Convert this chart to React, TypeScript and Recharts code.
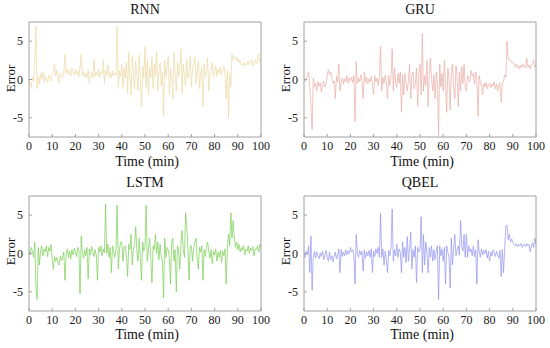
import React from "react";
import { LineChart, Line, XAxis, YAxis } from "recharts";

// Time axis: samples every 0.5 min from 0 to 100
const TIME: number[] = Array.from({ length: 201 }, (_, i) => i * 0.5);
const X_TICKS = [0, 10, 20, 30, 40, 50, 60, 70, 80, 90, 100];
const Y_TICKS = [-5, 0, 5];
const TITLES = ["RNN", "GRU", "LSTM", "QBEL"];

const RNN = [
  0.2, -0.5, -1.0, 0.3, -0.2, 2.5, 7.0, -1.2, 0.4, -0.6, 0.8, 0.1, 1.0, -0.3, 0.5, 0.2, -0.4, 0.6, 0.3, -0.2,
  0.6, 0.9, 2.0, 0.5, 1.2, 0.3, -0.5, 0.8, 0.4, 0.2, 1.0, 3.3, 0.7, 1.4, 0.8, 1.2, 0.5, 1.5, 1.0, 0.6,
  1.3, 0.7, 1.1, 0.4, 1.6, 3.3, 0.5, 1.0, 0.3, 0.8, 0.2, 1.2, -0.5, 0.6, 0.9, 0.2, 2.6, 0.4, 1.0, 0.5,
  1.4, 0.3, 1.0, 0.8, 2.6, -0.5, 1.2, 0.6, 1.9, 0.3, 0.9, 0.2, 1.1, 0.5, 0.8, 0.6, 7.0, -1.0, 1.2, 0.4,
  2.0, -1.0, 1.5, 0.2, 2.3, -1.8, 3.6, 0.4, -2.0, 3.0, 1.0, -1.2, 2.4, 0.5, -1.5, 3.2, -0.5, -3.5, 1.8, 0.2,
  4.3, -1.0, 2.5, -2.0, 1.5, 0.3, 3.0, -1.2, 2.0, 0.5, 3.6, -1.5, 1.2, 2.2, -0.8, 1.0, -4.7, 2.5, 0.3, 1.5,
  3.0, -2.0, 1.4, 0.2, -2.6, 3.5, 0.6, -1.5, 2.2, 0.4, 1.6, 4.0, -1.8, 2.0, 0.5, -0.8, 2.6, 0.2, 1.2, 3.0,
  -1.0, 1.5, 2.0, 3.0, -0.5, 1.0, 2.5, -1.2, 0.8, 1.6, -3.5, 2.0, 0.4, 1.2, 2.8, -1.5, 0.6, 1.0, 2.2, 0.3,
  1.0, 1.8, 0.4, 1.4, 0.8, 1.6, 0.6, 1.2, 1.8, 0.5, -2.5, 1.2, -5.0, 0.8, -1.0, 3.3, 2.6, 2.8, 3.0, 2.4,
  2.8, 2.2, 2.5, 1.9, 2.1, 1.7, 2.2, 1.8, 2.0, 2.4, 1.9, 2.3, 2.6, 1.8, 2.2, 2.5, 2.0, 2.7, 3.4, 2.2,
  2.5,
];

const GRU = [
  0.2, -0.3, 0.1, 0.4, 1.0, -1.0, -3.5, -6.5, 0.2, -1.0, -0.5, -1.5, -0.3, -0.9, -0.4, -1.6, -0.6, -0.2, -1.0, -0.5,
  0.5, 1.3, 0.6, 1.0, 0.2, -0.5, -0.2, -2.5, 0.4, -0.3, 2.0, -1.5, -0.4, 0.2, -0.6, 0.1, -0.3, 0.5, -0.5, 0.2,
  -0.2, 0.3, -0.4, 0.5, -5.5, 2.3, -0.5, 0.2, -0.3, 0.6, -0.2, -2.5, 1.0, -0.4, 0.3, -0.6, 0.1, -0.3, 0.4, -0.8,
  -2.0, 0.5, -0.3, 0.2, -0.8, 0.4, 4.3, -1.5, 0.3, -0.5, 0.6, -0.3, -2.5, 0.5, -0.8, 0.2, 4.0, -1.5, 1.5, -0.4,
  -1.0, 0.8, -0.5, 1.0, -4.3, 0.6, -2.0, 0.8, -0.4, -1.5, -0.2, 2.0, -2.5, 0.5, 1.0, -1.2, -0.5, 1.5, -3.5, 0.8,
  2.0, -2.0, 6.0, -1.5, 0.5, -0.8, 2.5, -3.5, 0.8, 2.8, 0.0, -1.5, 0.6, -2.5, 1.0, -0.5, -7.3, 2.0, -1.0, 0.8,
  -1.5, 2.5, -0.5, -4.3, 1.5, 0.3, -4.0, 1.2, 2.0, -1.0, -2.5, 1.8, 0.5, -3.5, 1.0, -1.5, 1.7, -0.5, 2.0, -1.0,
  -1.5, 0.5, 0.2, -0.3, 1.2, 0.4, 0.8, -0.6, 1.0, 0.2, -4.8, 0.5, -0.3, -0.8, -2.0, -0.5, -1.0, -0.4, -1.2, -0.7,
  -0.5, -1.1, -0.6, -0.9, -0.3, -1.2, -0.6, -1.5, -0.8, -0.4, -3.0, -0.6, -0.2, 0.6, 0.3, 5.0, 2.8, 2.5, 2.6, 2.2,
  2.3, 1.9, 1.6, 2.0, 1.5, 1.8, 1.4, 1.9, 1.6, 2.0, 1.7, 1.5, 2.8, 1.6, 1.9, 1.4, 1.8, 2.1, 2.5, 1.6,
  1.8,
];

const LSTM = [
  0.5, -0.2, 0.8, 0.2, -0.5, 1.5, -4.5, -6.0, 0.8, -1.5, 0.4, 1.0, -0.3, 0.6, 0.2, 1.0, -0.4, 0.8, 0.3, 1.2,
  -0.8, -2.0, -0.4, -1.0, -0.5, -1.2, -1.5, -0.3, -0.9, -0.6, 0.2, -3.5, -0.2, 0.6, -0.5, 0.3, -0.7, 0.5, -0.2, 0.7,
  0.2, -0.4, 0.8, 0.3, -5.3, 2.3, 0.1, -0.6, 0.5, -0.3, 0.8, -3.3, 0.6, -0.2, 0.9, 0.3, -0.4, 0.5, -0.2, -3.5,
  0.8, 0.2, 1.0, -0.3, 0.6, 0.1, 6.5, 0.0, 1.2, -0.5, 0.8, -2.5, 1.0, 0.3, -0.5, 0.6, 6.3, -2.0, 0.5, 1.5,
  1.5, -1.0, 0.8, 1.0, -0.5, -3.0, 1.2, 0.5, 2.5, -1.5, 0.5, 1.2, 3.5, 0.2, -1.0, 2.0, -0.5, -3.5, 1.5, 0.3,
  1.0, 6.3, -1.0, 0.5, 2.0, -0.6, -3.8, 1.0, 0.5, 2.5, 0.0, 1.5, -0.8, 1.2, -0.3, -1.0, -5.8, 2.0, -0.5, 0.8,
  0.5, -0.5, -4.0, 1.5, 2.0, -1.0, 0.5, -5.0, 1.0, 0.4, -2.0, 1.2, 3.0, 0.5, -0.5, 5.3, 3.5, 0.8, -3.5, 1.0,
  1.0, -1.0, 0.6, 1.5, 2.0, -0.8, -2.0, 0.8, 0.2, 1.0, -3.5, 0.5, -0.4, 0.8, 1.5, 0.2, -0.6, 0.5, -1.3, 0.3,
  -0.2, 0.6, -1.0, 0.2, -0.5, 0.4, -1.2, 0.3, -0.3, 0.6, -4.0, 0.5, 2.5, 1.0, 5.3, 2.0, 4.3, 2.0, 0.8, 1.5,
  0.5, 1.2, 0.2, 0.8, 0.4, 1.0, -0.2, 0.6, 0.3, 1.0, 0.0, 0.7, 0.4, 0.9, -0.3, 0.6, 0.5, 1.0, 0.2, 1.2,
  0.8,
];

const QBEL = [
  0.0, -0.5, 0.3, -0.2, 1.0, -2.5, 2.3, -4.8, -0.5, 0.3, -0.6, 0.2, -0.3, -0.7, 0.1, -0.4, 0.3, -0.8, -0.2, 0.4,
  -0.5, -1.0, 0.2, -0.8, -0.3, -1.1, -0.4, 0.2, -0.7, -0.2, 0.6, -2.5, 0.5, -0.4, 0.2, -0.3, 0.5, -0.2, 0.3, 0.0,
  0.8, 0.2, 0.5, -0.3, -4.0, 2.5, 0.0, -0.5, 0.4, -0.2, 0.3, -2.3, 0.5, -0.6, 0.2, -0.3, 0.4, -0.5, 0.6, -2.5,
  0.3, -0.4, 0.6, 0.0, 0.8, -0.5, 5.2, -0.5, 0.6, -1.5, 0.3, -0.8, -2.5, 0.4, -0.3, 0.8, 5.8, -1.0, 0.5, -0.3,
  1.2, -0.5, 0.6, 0.2, -2.5, 1.5, -0.5, 0.8, -1.2, 2.2, -1.0, 0.6, 2.8, -2.0, 0.5, -0.5, 1.0, -3.8, 0.8, 0.2,
  0.5, 4.8, -2.5, 2.5, -1.5, 1.5, 0.2, -2.5, 0.8, -0.5, 1.0, -1.0, 0.5, -0.8, 0.3, 1.0, -6.0, 1.0, -0.3, 0.6,
  -1.0, 0.8, -4.0, 1.0, 0.2, -0.5, -4.5, 2.0, -1.5, 0.5, 2.5, -0.3, 0.5, 1.0, -0.2, 4.3, 1.0, 0.3, 2.5, -0.5,
  2.5, -0.5, 1.0, 0.2, 0.6, -0.3, 1.0, -0.4, 0.5, -4.0, 1.8, 0.3, -0.5, 0.6, -0.2, 0.4, 0.0, 0.5, -0.6, 0.3,
  -1.0, 0.2, -0.3, 0.5, 0.1, -0.4, 0.3, -0.2, -0.6, 0.4, -3.0, 0.5, -2.5, 0.6, 3.6, 3.7, 1.8, 2.5, 1.5, 1.9,
  1.5, 1.2, 1.0, 1.3, 0.9, 1.2, 1.0, 1.3, 0.8, 1.1, 1.2, 0.9, 1.3, 1.0, 1.2, 0.2, 1.0, 1.4, 0.8, 2.0,
  1.2,
];

const COLORS = ["#ebd9a2", "#e8aca4", "#78cf52", "#9292f0"];
const SERIES = [RNN, GRU, LSTM, QBEL];

const FONT = '"Liberation Serif", "Times New Roman", serif';
const AXIS = "#a0a0a0";
const W = 275;
const H = 174;

type PanelProps = { idx: number; left: number; top: number; row: number };

function Panel({ idx, left, top, row }: PanelProps) {
  const values = SERIES[idx];
  const data = TIME.map((t, i) => ({ t, v: values[i] }));
  const tickStyle = { fill: "#1a1a1a", fontSize: 12, fontFamily: FONT };
  const titleTop = row === 0 ? 3.3 : 1.6;
  const xlabTop = row === 0 ? 154.6 : 153.8;
  const errCy = row === 0 ? 78 : 77;
  return (
    <div style={{ position: "absolute", left, top, width: W, height: H }}>
      <LineChart width={W} height={H} data={data} margin={{ top: 21, right: 13, left: 0, bottom: 7 }}>
        <XAxis
          dataKey="t"
          type="number"
          domain={[0, 100]}
          ticks={X_TICKS}
          interval={0}
          height={30}
          tickSize={-3}
          tickMargin={7}
          stroke={AXIS}
          tick={tickStyle}
          allowDataOverflow
        />
        <XAxis
          xAxisId="top"
          orientation="top"
          dataKey="t"
          type="number"
          domain={[0, 100]}
          ticks={X_TICKS}
          interval={0}
          height={1}
          tickSize={-3}
          tick={false}
          stroke={AXIS}
        />
        <YAxis
          type="number"
          domain={[-7.5, 7.5]}
          ticks={Y_TICKS}
          interval={0}
          width={29}
          tickSize={-3}
          tickMargin={9}
          stroke={AXIS}
          tick={tickStyle}
          allowDataOverflow
        />
        <YAxis
          yAxisId="right"
          orientation="right"
          type="number"
          domain={[-7.5, 7.5]}
          ticks={Y_TICKS}
          interval={0}
          width={1}
          tickSize={-3}
          tick={false}
          stroke={AXIS}
        />
        <Line
          dataKey="v"
          type="linear"
          stroke={COLORS[idx]}
          strokeWidth={0.7}
          dot={false}
          isAnimationActive={false}
        />
      </LineChart>
      <div
        style={{
          position: "absolute",
          left: 145 - 50,
          top: titleTop,
          width: 100,
          textAlign: "center",
          fontSize: 14,
          lineHeight: "14px",
          fontFamily: FONT,
          color: "#111",
        }}
      >
        {TITLES[idx]}
      </div>
      <div
        style={{
          position: "absolute",
          left: 147 - 60,
          top: xlabTop,
          width: 120,
          textAlign: "center",
          fontSize: 14,
          lineHeight: "14px",
          fontFamily: FONT,
          color: "#111",
        }}
      >
        Time (min)
      </div>
      <div
        style={{
          position: "absolute",
          left: 10 - 30,
          top: errCy - 6.5,
          width: 60,
          height: 13,
          textAlign: "center",
          fontSize: 13,
          lineHeight: "13px",
          fontFamily: FONT,
          color: "#111",
          transform: "rotate(-90deg)",
        }}
      >
        Error
      </div>
    </div>
  );
}

export default function App() {
  return (
    <div
      style={{
        position: "absolute",
        left: 0,
        top: 0,
        width: 550,
        height: 348,
        background: "#fff",
        overflow: "hidden",
      }}
    >
      <Panel idx={0} left={0} top={0} row={0} />
      <Panel idx={1} left={275} top={0} row={0} />
      <Panel idx={2} left={0} top={174} row={1} />
      <Panel idx={3} left={275} top={174} row={1} />
    </div>
  );
}
